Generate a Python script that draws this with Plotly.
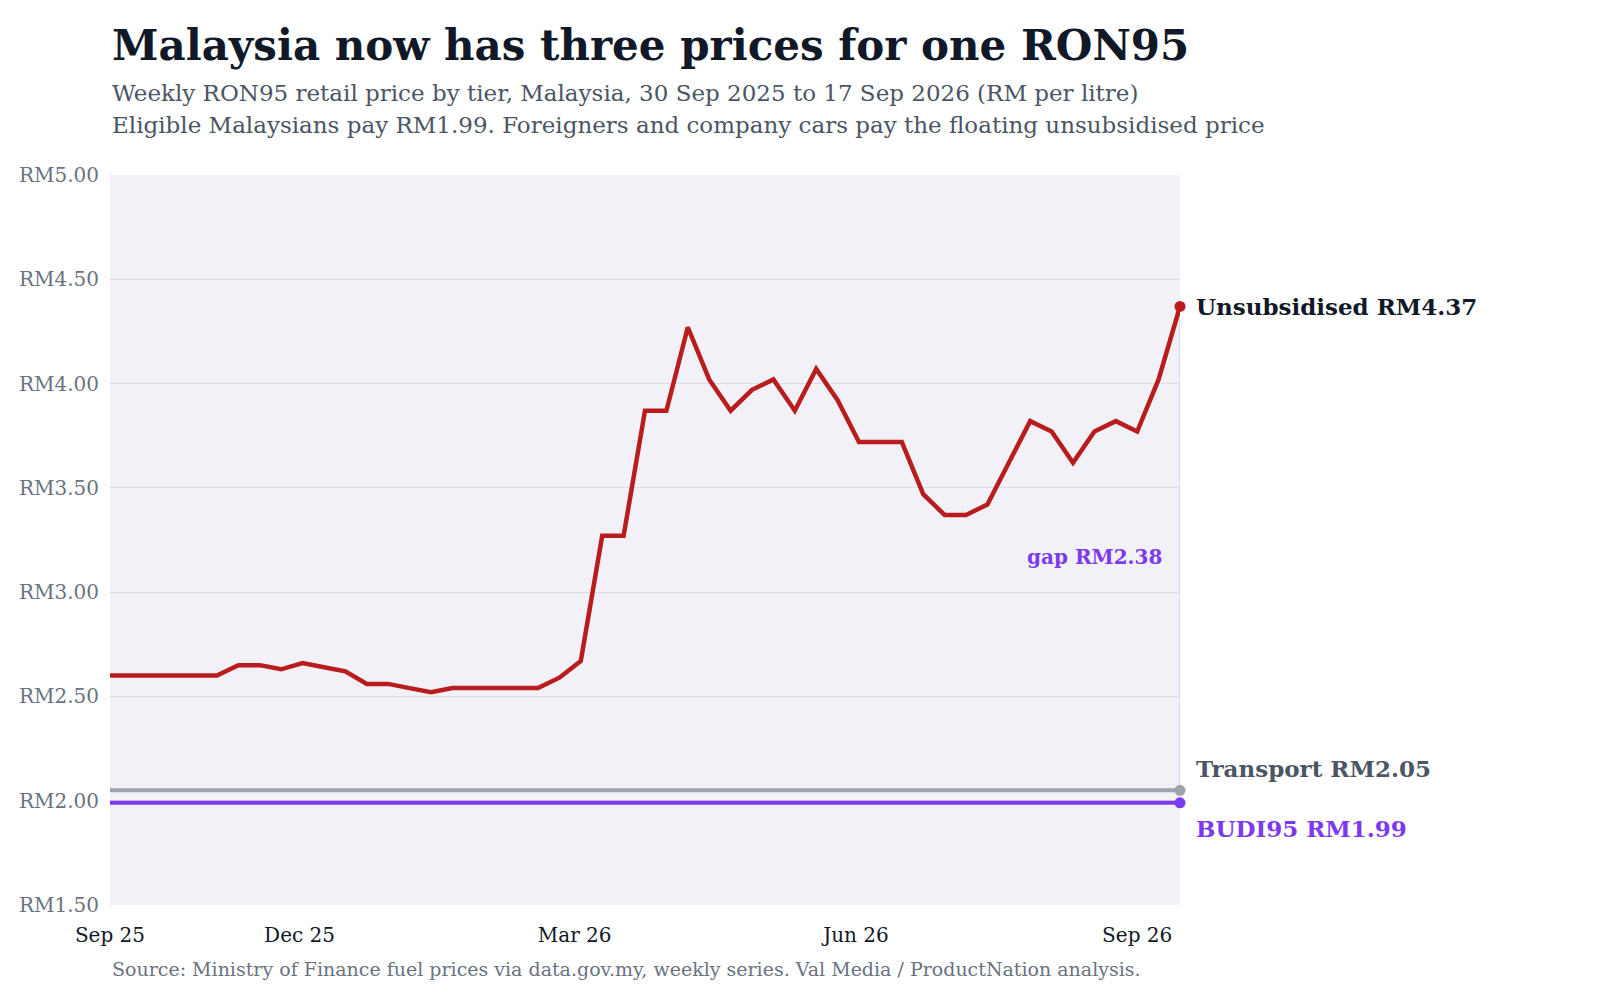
import pandas as pd
import plotly.graph_objects as go

dates = pd.date_range("2025-09-30", periods=51, freq="7D")
unsubsidised = [2.60, 2.60, 2.60, 2.60, 2.60, 2.60, 2.65, 2.65, 2.63, 2.66,
                2.64, 2.62, 2.56, 2.56, 2.54, 2.52, 2.54, 2.54, 2.54, 2.54,
                2.54, 2.59, 2.67, 3.27, 3.27, 3.87, 3.87, 4.27, 4.02, 3.87,
                3.97, 4.02, 3.87, 4.07, 3.92, 3.72, 3.72, 3.72, 3.47, 3.37,
                3.37, 3.42, 3.62, 3.82, 3.77, 3.62, 3.77, 3.82, 3.77, 4.02,
                4.37]
transport_price = 2.05
budi95_price = 1.99
tick_dates = ["2025-09-30", "2025-12-01", "2026-03-01", "2026-06-01", "2026-09-01"]
tick_labels = ["Sep 25", "Dec 25", "Mar 26", "Jun 26", "Sep 26"]
y_ticks = [1.5, 2.0, 2.5, 3.0, 3.5, 4.0, 4.5, 5.0]

RED = "#b91c1c"
GREY = "#9ca3af"
PURPLE = "#7c3aed"
FONT = "DejaVu Serif"

last = dates[-1]
gap = unsubsidised[-1] - budi95_price

fig = go.Figure()
# gap connector
fig.add_trace(go.Scatter(x=[last, last], y=[budi95_price, unsubsidised[-1]], mode="lines",
                         line=dict(color="#ddd6fe", width=2), hoverinfo="skip"))
fig.add_trace(go.Scatter(x=[dates[0], last], y=[transport_price] * 2, mode="lines",
                         line=dict(color=GREY, width=4)))
fig.add_trace(go.Scatter(x=[dates[0], last], y=[budi95_price] * 2, mode="lines",
                         line=dict(color=PURPLE, width=4)))
fig.add_trace(go.Scatter(x=dates, y=unsubsidised, mode="lines",
                         line=dict(color=RED, width=4.5)))
fig.add_trace(go.Scatter(x=[last, last, last], y=[unsubsidised[-1], transport_price, budi95_price],
                         mode="markers", marker=dict(color=[RED, GREY, PURPLE], size=11),
                         cliponaxis=False))

end_labels = [
    (unsubsidised[-1], f"Unsubsidised RM{unsubsidised[-1]:.2f}", "#111827", 0),
    (transport_price, f"Transport RM{transport_price:.2f}", "#4b5563", 22),
    (budi95_price, f"BUDI95 RM{budi95_price:.2f}", PURPLE, -26),
]
for y, text, color, shift in end_labels:
    fig.add_annotation(x=last, y=y, text=f"<b>{text}</b>", showarrow=False, xanchor="left",
                       xshift=14, yshift=shift, font=dict(family=FONT, size=23, color=color))
fig.add_annotation(x=last, y=3.17, text=f"<b>gap RM{gap:.2f}</b>", showarrow=False,
                   xanchor="right", xshift=-16, font=dict(family=FONT, size=20, color=PURPLE))

# title block
header = [
    ("<b>Malaysia now has three prices for one RON95</b>", 42, "#111827", 1.178),
    ("Weekly RON95 retail price by tier, Malaysia, 30 Sep 2025 to 17 Sep 2026 (RM per litre)",
     23, "#4b5563", 1.112),
    ("Eligible Malaysians pay RM1.99. Foreigners and company cars pay the floating unsubsidised price",
     23, "#4b5563", 1.069),
]
for text, size, color, y in header:
    fig.add_annotation(text=text, xref="paper", yref="paper", x=0, y=y, xanchor="left",
                       yanchor="middle", showarrow=False, font=dict(family=FONT, size=size, color=color))
fig.add_annotation(text="Source: Ministry of Finance fuel prices via data.gov.my, weekly series. "
                        "Val Media / ProductNation analysis.",
                   xref="paper", yref="paper", x=0, y=-0.087, xanchor="left", yanchor="middle",
                   showarrow=False, font=dict(family=FONT, size=19, color="#6b7280"))

fig.update_layout(
    width=1600, height=1000, showlegend=False,
    paper_bgcolor="white", plot_bgcolor="#f2f1f8",
    margin=dict(l=102, r=428, t=167, b=103),
    font=dict(family=FONT, color="#6b7280"),
    xaxis=dict(range=[dates[0], last], tickvals=tick_dates, ticktext=tick_labels,
               showgrid=False, zeroline=False, ticklabelstandoff=16,
               tickfont=dict(size=20, color="#111827")),
    yaxis=dict(range=[1.5, 5.0], tickvals=y_ticks, ticktext=[f"RM{v:.2f}" for v in y_ticks],
               gridcolor="#dcdbe6", zeroline=False, ticklabelstandoff=10,
               tickfont=dict(size=20, color="#6b7280")),
)

fig.write_html("out.html")
